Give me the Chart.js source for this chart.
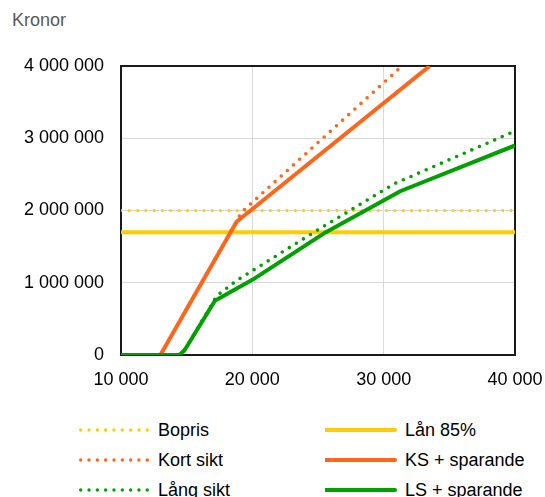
<!DOCTYPE html>
<html lang="sv">
<head>
<meta charset="utf-8">
<title>Kronor</title>
<script src="https://cdn.jsdelivr.net/npm/chart.js@4.4.1/dist/chart.umd.min.js"></script>
<style>
  html, body { margin: 0; padding: 0; background: #fff; }
  body { width: 545px; height: 497px; position: relative; overflow: hidden;
         font-family: "Liberation Sans", Arial, sans-serif; }
  #unit { position: absolute; left: 12px; top: 10px; font-size: 18px; color: #595959; }
  #wrap { position: absolute; left: 0; top: 0; width: 545px; height: 400px; }
  .leg { position: absolute; height: 24px; display: flex; align-items: center;
         font-size: 18px; color: #000; white-space: nowrap; }
  .leg svg { margin-right: 8px; }
</style>
</head>
<body>
<div id="unit">Kronor</div>
<div id="wrap"><canvas id="c"></canvas></div>
<div id="legend"></div>
<script>
// Axis ticks
const xTicks = [10000, 20000, 30000, 40000];
const yTicks = [0, 1000000, 2000000, 3000000, 4000000];

// Bopris (house price) and Lån 85% (loan)
const boprisX = [10000, 40000];
const boprisY = [2000000, 2000000];
const lanX = [10000, 40000];
const lanY = [1700000, 1700000];

// Kort sikt and KS + sparande
const kortX = [10000, 13000, 19200, 31400];
const kortY = [0, 0, 1980000, 4000000];
const ksX = [10000, 13000, 18800, 33500];
const ksY = [0, 0, 1845000, 4000000];

// Lång sikt and LS + sparande
const langX = [10000, 14450, 14850, 17300, 18800, 24700, 30800, 40000];
const langY = [0, 0, 70000, 820000, 1030000, 1700000, 2370000, 3100000];
const lsX = [10000, 14450, 14850, 17150, 20000, 25600, 31300, 40000];
const lsY = [0, 0, 70000, 750000, 1040000, 1700000, 2270000, 2900000];

const YELLOW = '#FFCC00';
const ORANGE = '#FF6619';
const GREEN = '#00A000';

function pts(xs, ys) { return xs.map((x, i) => ({ x: x, y: ys[i] })); }
function fmt(v) { return String(Math.round(v)).replace(/\B(?=(\d{3})+(?!\d))/g, ' '); }

const series = [
  { label: 'Bopris', data: pts(boprisX, boprisY), color: YELLOW, dotted: true, width: 3, order: 5 },
  { label: 'Lån 85%', data: pts(lanX, lanY), color: YELLOW, dotted: false, width: 4, order: 4 },
  { label: 'Kort sikt', data: pts(kortX, kortY), color: ORANGE, dotted: true, width: 3.6, order: 3 },
  { label: 'KS + sparande', data: pts(ksX, ksY), color: ORANGE, dotted: false, width: 4, order: 2 },
  { label: 'Lång sikt', data: pts(langX, langY), color: GREEN, dotted: true, width: 3.6, order: 1 },
  { label: 'LS + sparande', data: pts(lsX, lsY), color: GREEN, dotted: false, width: 4, order: 0 }
];

const datasets = series.map(s => ({
  label: s.label,
  data: s.data,
  borderColor: s.color,
  backgroundColor: s.color,
  borderWidth: s.width,
  borderDash: s.dotted ? [0, 8.3] : [],
  borderCapStyle: s.dotted ? 'round' : 'butt',
  borderJoinStyle: 'round',
  pointRadius: 0,
  pointHoverRadius: 0,
  fill: false,
  tension: 0,
  order: s.order
}));

// Black frame around the plot area, drawn under the lines
const frame = {
  id: 'frame',
  beforeDatasetsDraw(chart) {
    const a = chart.chartArea, ctx = chart.ctx;
    ctx.save();
    ctx.strokeStyle = '#1a1a1a';
    ctx.lineWidth = 2;
    ctx.strokeRect(a.left, a.top, a.right - a.left, a.bottom - a.top);
    ctx.restore();
  }
};

const tickFont = { family: '"Liberation Sans", Arial, sans-serif', size: 18 };

new Chart(document.getElementById('c'), {
  type: 'line',
  data: { datasets: datasets },
  plugins: [frame],
  options: {
    responsive: true,
    maintainAspectRatio: false,
    animation: false,
    events: [],
    layout: { padding: { left: 0, top: 66, right: 30, bottom: 0 } },
    plugins: { legend: { display: false }, tooltip: { enabled: false } },
    scales: {
      x: {
        type: 'linear',
        min: xTicks[0],
        max: xTicks[xTicks.length - 1],
        afterBuildTicks(scale) { scale.ticks = xTicks.map(v => ({ value: v })); },
        afterFit(scale) { scale.height = 45; scale.paddingLeft = 0; scale.paddingRight = 0; },
        ticks: { color: '#000', font: tickFont, padding: 14, maxRotation: 0, autoSkip: false,
                 callback: v => fmt(v) },
        grid: { color: '#d9d9d9', lineWidth: 1, drawTicks: false },
        border: { display: false }
      },
      y: {
        type: 'linear',
        min: yTicks[0],
        max: yTicks[yTicks.length - 1],
        afterBuildTicks(scale) { scale.ticks = yTicks.map(v => ({ value: v })); },
        afterFit(scale) { scale.width = 121; scale.paddingTop = 0; scale.paddingBottom = 0; },
        ticks: { color: '#000', font: tickFont, padding: 17, callback: v => fmt(v) },
        grid: { color: '#d9d9d9', lineWidth: 1, drawTicks: false },
        border: { display: false }
      }
    }
  }
});

// Legend in two columns below the plot
const legendPos = [
  { left: 78, top: 418 }, { left: 325, top: 418 },
  { left: 78, top: 448 }, { left: 325, top: 448 },
  { left: 78, top: 478 }, { left: 325, top: 478 }
];
const legend = document.getElementById('legend');
series.forEach((s, i) => {
  const p = legendPos[i];
  const el = document.createElement('div');
  el.className = 'leg';
  el.style.left = p.left + 'px';
  el.style.top = p.top + 'px';
  const line = s.dotted
    ? `<line x1="2.7" y1="12" x2="69.3" y2="12" stroke="${s.color}" stroke-width="3.4" stroke-linecap="round" stroke-dasharray="0 8.32"/>`
    : `<line x1="0" y1="12" x2="70" y2="12" stroke="${s.color}" stroke-width="4" stroke-linecap="round"/>`;
  el.innerHTML = `<svg width="72" height="24" viewBox="0 0 72 24">${line}</svg><span>${s.label}</span>`;
  legend.appendChild(el);
});
</script>
</body>
</html>
